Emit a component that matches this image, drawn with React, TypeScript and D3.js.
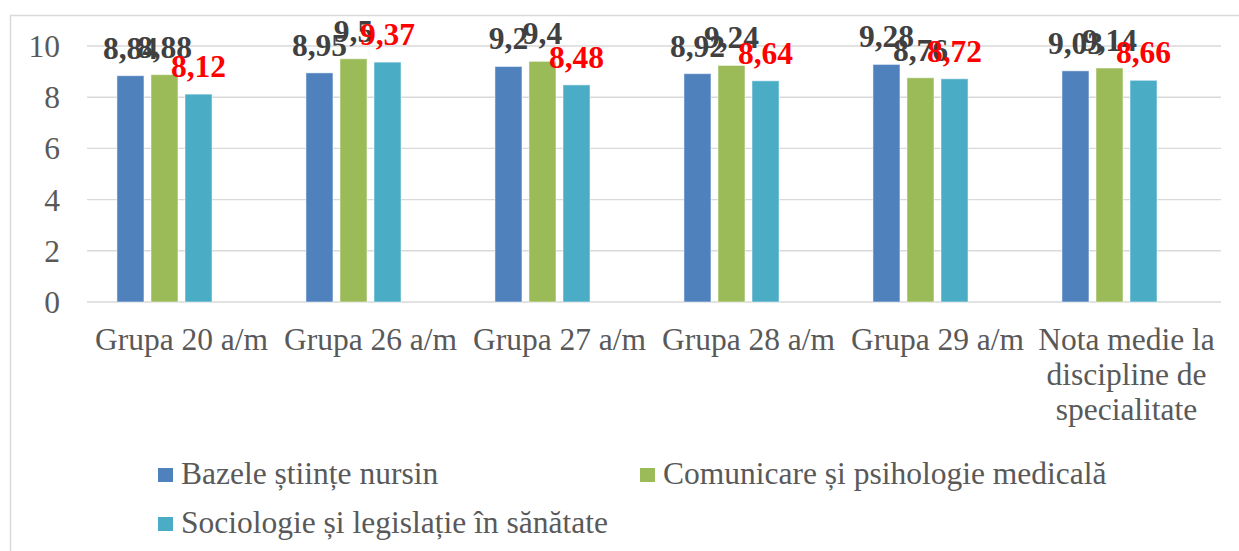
import React, { useEffect, useRef } from 'react';
import * as d3 from 'd3';

// categories and series
const categories = [
  'Grupa 20 a/m',
  'Grupa 26 a/m',
  'Grupa 27 a/m',
  'Grupa 28 a/m',
  'Grupa 29 a/m',
  'Nota medie la discipline de specialitate',
];
const seriesNames = [
  'Bazele științe nursin',
  'Comunicare și psihologie medicală',
  'Sociologie și legislație în sănătate',
];
const bazele = [8.84, 8.95, 9.2, 8.92, 9.28, 9.03];
const comunicare = [8.88, 9.5, 9.4, 9.24, 8.76, 9.14];
const sociologie = [8.12, 9.37, 8.48, 8.64, 8.72, 8.66];
const yTicks = [0, 2, 4, 6, 8, 10];

// the last category label wraps in the original
const categoryLines = [
  ['Grupa 20 a/m'],
  ['Grupa 26 a/m'],
  ['Grupa 27 a/m'],
  ['Grupa 28 a/m'],
  ['Grupa 29 a/m'],
  ['Nota medie la', 'discipline de', 'specialitate'],
];

const colors = ['#4F81BD', '#9BBB59', '#4BACC6'];
const labelColors = ['#404040', '#404040', '#FF0000'];

const App = () => {
  const ref = useRef<SVGSVGElement>(null);

  useEffect(() => {
    const plotLeft = 87;
    const plotRight = 1221;
    const plotTop = 46;
    const plotBottom = 302;
    const font = 'Liberation Serif';
    const fontSize = 31.5;

    const svg = d3.select(ref.current);
    svg.selectAll('*').remove();

    // chart area border
    svg.append('rect')
      .attr('x', 10.5)
      .attr('y', 15.5)
      .attr('width', 1300)
      .attr('height', 700)
      .attr('fill', 'white')
      .attr('stroke', '#D9D9D9')
      .attr('stroke-width', 1.5);

    const x0 = d3.scaleBand<string>()
      .domain(categories)
      .range([plotLeft, plotRight]);

    // four slots per group: the source chart had an empty fourth series
    const x1 = d3.scaleBand<string>()
      .domain(['0', '1', '2', '3'])
      .range([0, x0.bandwidth()])
      .paddingInner(0.206)
      .paddingOuter(0.88);

    const y = d3.scaleLinear()
      .domain([0, 10])
      .range([plotBottom, plotTop]);

    // gridlines
    svg.append('g')
      .selectAll('line')
      .data(yTicks)
      .join('line')
      .attr('x1', plotLeft)
      .attr('x2', plotRight)
      .attr('y1', d => y(d))
      .attr('y2', d => y(d))
      .attr('stroke', '#D9D9D9')
      .attr('stroke-width', 1.4);

    // y tick labels
    svg.append('g')
      .selectAll('text')
      .data(yTicks)
      .join('text')
      .attr('x', 60)
      .attr('y', d => y(d) + 11)
      .attr('text-anchor', 'end')
      .attr('font-family', font)
      .attr('font-size', fontSize)
      .attr('fill', '#595959')
      .text(d => d);

    const series = [bazele, comunicare, sociologie];

    // bars
    series.forEach((values, s) => {
      svg.append('g')
        .selectAll('rect')
        .data(values)
        .join('rect')
        .attr('x', (d, i) => x0(categories[i])! + x1(String(s))!)
        .attr('y', d => y(d))
        .attr('width', x1.bandwidth())
        .attr('height', d => y(0) - y(d))
        .attr('fill', colors[s])
        .attr('stroke', 'rgba(255,255,255,0.5)')
        .attr('stroke-width', 1);
    });

    // data labels, drawn after all bars so they overlap like the original
    series.forEach((values, s) => {
      svg.append('g')
        .selectAll('text')
        .data(values)
        .join('text')
        .attr('x', (d, i) => x0(categories[i])! + x1(String(s))! + x1.bandwidth() / 2)
        .attr('y', d => y(d) - 17)
        .attr('text-anchor', 'middle')
        .attr('font-family', font)
        .attr('font-size', fontSize)
        .attr('font-weight', 'bold')
        .attr('fill', labelColors[s])
        .text(d => String(d).replace('.', ','));
    });

    // category labels
    const cat = svg.append('g');
    categoryLines.forEach((lines, i) => {
      const cx = x0(categories[i])! + x0.bandwidth() / 2;
      lines.forEach((line, j) => {
        cat.append('text')
          .attr('x', cx)
          .attr('y', 350 + j * 35)
          .attr('text-anchor', 'middle')
          .attr('font-family', font)
          .attr('font-size', fontSize)
          .attr('fill', '#595959')
          .text(line);
      });
    });

    // legend
    const legendPos = [
      { x: 158, y: 468 },
      { x: 640, y: 468 },
      { x: 158, y: 517 },
    ];
    const legend = svg.append('g');
    seriesNames.forEach((name, s) => {
      const p = legendPos[s];
      legend.append('rect')
        .attr('x', p.x)
        .attr('y', p.y)
        .attr('width', 15)
        .attr('height', 14)
        .attr('fill', colors[s]);
      legend.append('text')
        .attr('x', p.x + 23)
        .attr('y', p.y + 16)
        .attr('font-family', font)
        .attr('font-size', fontSize)
        .attr('fill', '#595959')
        .text(name);
    });
  }, []);

  return (
    <svg
      ref={ref}
      width={1239}
      height={551}
      style={{ position: 'absolute', left: 0, top: 0, background: 'white' }}
    />
  );
};

export default App;
